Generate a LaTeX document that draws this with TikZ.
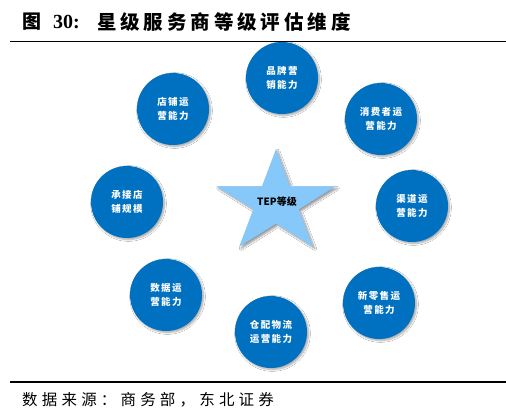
\documentclass[tikz,border=0pt]{standalone}
\usepackage{fontspec}
\setmainfont{Liberation Serif}
\newfontfamily\cjk{Noto Sans CJK SC}
\newfontfamily\cjkls[LetterSpace=15]{Noto Sans CJK SC}
\newfontfamily\cjktitle[LetterSpace=20]{Noto Sans CJK SC}
\newfontfamily\cjksrc[LetterSpace=27]{Noto Sans CJK SC}
\usetikzlibrary{shadows.blur}
\definecolor{cblue}{RGB}{0,112,192}
\definecolor{starblue}{RGB}{135,200,250}
\tikzset{
  circ/.style={circle, fill=cblue, minimum size=72pt, inner sep=0pt, text=white,
    align=center, font=\cjkls\bfseries\fontsize{9.5}{14}\selectfont,
    blur shadow={shadow xshift=1.5pt, shadow yshift=-1.5pt, shadow blur steps=6, shadow opacity=35}},
  rule/.style={line width=1.3pt, black},
}
\begin{document}
\begin{tikzpicture}[x=1pt,y=-1pt]
\useasboundingbox[fill=white] (0,0) rectangle (506,414);
% title
\node[anchor=west, inner sep=0pt, font=\cjk\bfseries\fontsize{19}{19}\selectfont] (t1) at (22,22) {图};
\node[anchor=west, inner sep=0pt, font=\bfseries\fontsize{20}{20}\selectfont] (t2) at (53,22) {30:};
\node[anchor=west, inner sep=0pt, font=\cjktitle\bfseries\fontsize{19.5}{20}\selectfont] (t3) at (97,22) {星级服务商等级评估维度};
\draw[rule] (10,41.5) -- (506,41.5);
% star
\begin{scope}[shift={(276,203)}, xscale=1.16]
\fill[starblue, blur shadow={shadow xshift=2pt, shadow yshift=-2pt, shadow blur steps=6, shadow opacity=40}]
  (90:54pt) -- (54:20.6pt) -- (18:54pt) -- (-18:20.6pt) -- (-54:54pt) -- (-90:20.6pt)
  -- (-126:54pt) -- (-162:20.6pt) -- (162:54pt) -- (126:20.6pt) -- cycle;
\end{scope}
\node[font=\cjk\bfseries\fontsize{10}{12}\selectfont, inner sep=0pt] (star) at (277,202) {TEP等级};
% circles
\node[circ] (A) at (282,78) {品牌营\\销能力};
\node[circ] (B) at (173,109) {店铺运\\营能力};
\node[circ] (C) at (381,119) {消费者运\\营能力};
\node[circ] (D) at (127,202) {承接店\\铺规模};
\node[circ] (E) at (412,206) {渠道运\\营能力};
\node[circ] (F) at (166,295) {数据运\\营能力};
\node[circ] (G) at (271,332) {仓配物流\\运营能力};
\node[circ] (H) at (379,303) {新零售运\\营能力};
% source
\draw[rule] (10,382) -- (506,382);
\node[anchor=west, inner sep=0pt, font=\cjksrc\fontsize{15.5}{16}\selectfont] (src) at (22,400) {数据来源：商务部，东北证券};
\end{tikzpicture}
\end{document}
